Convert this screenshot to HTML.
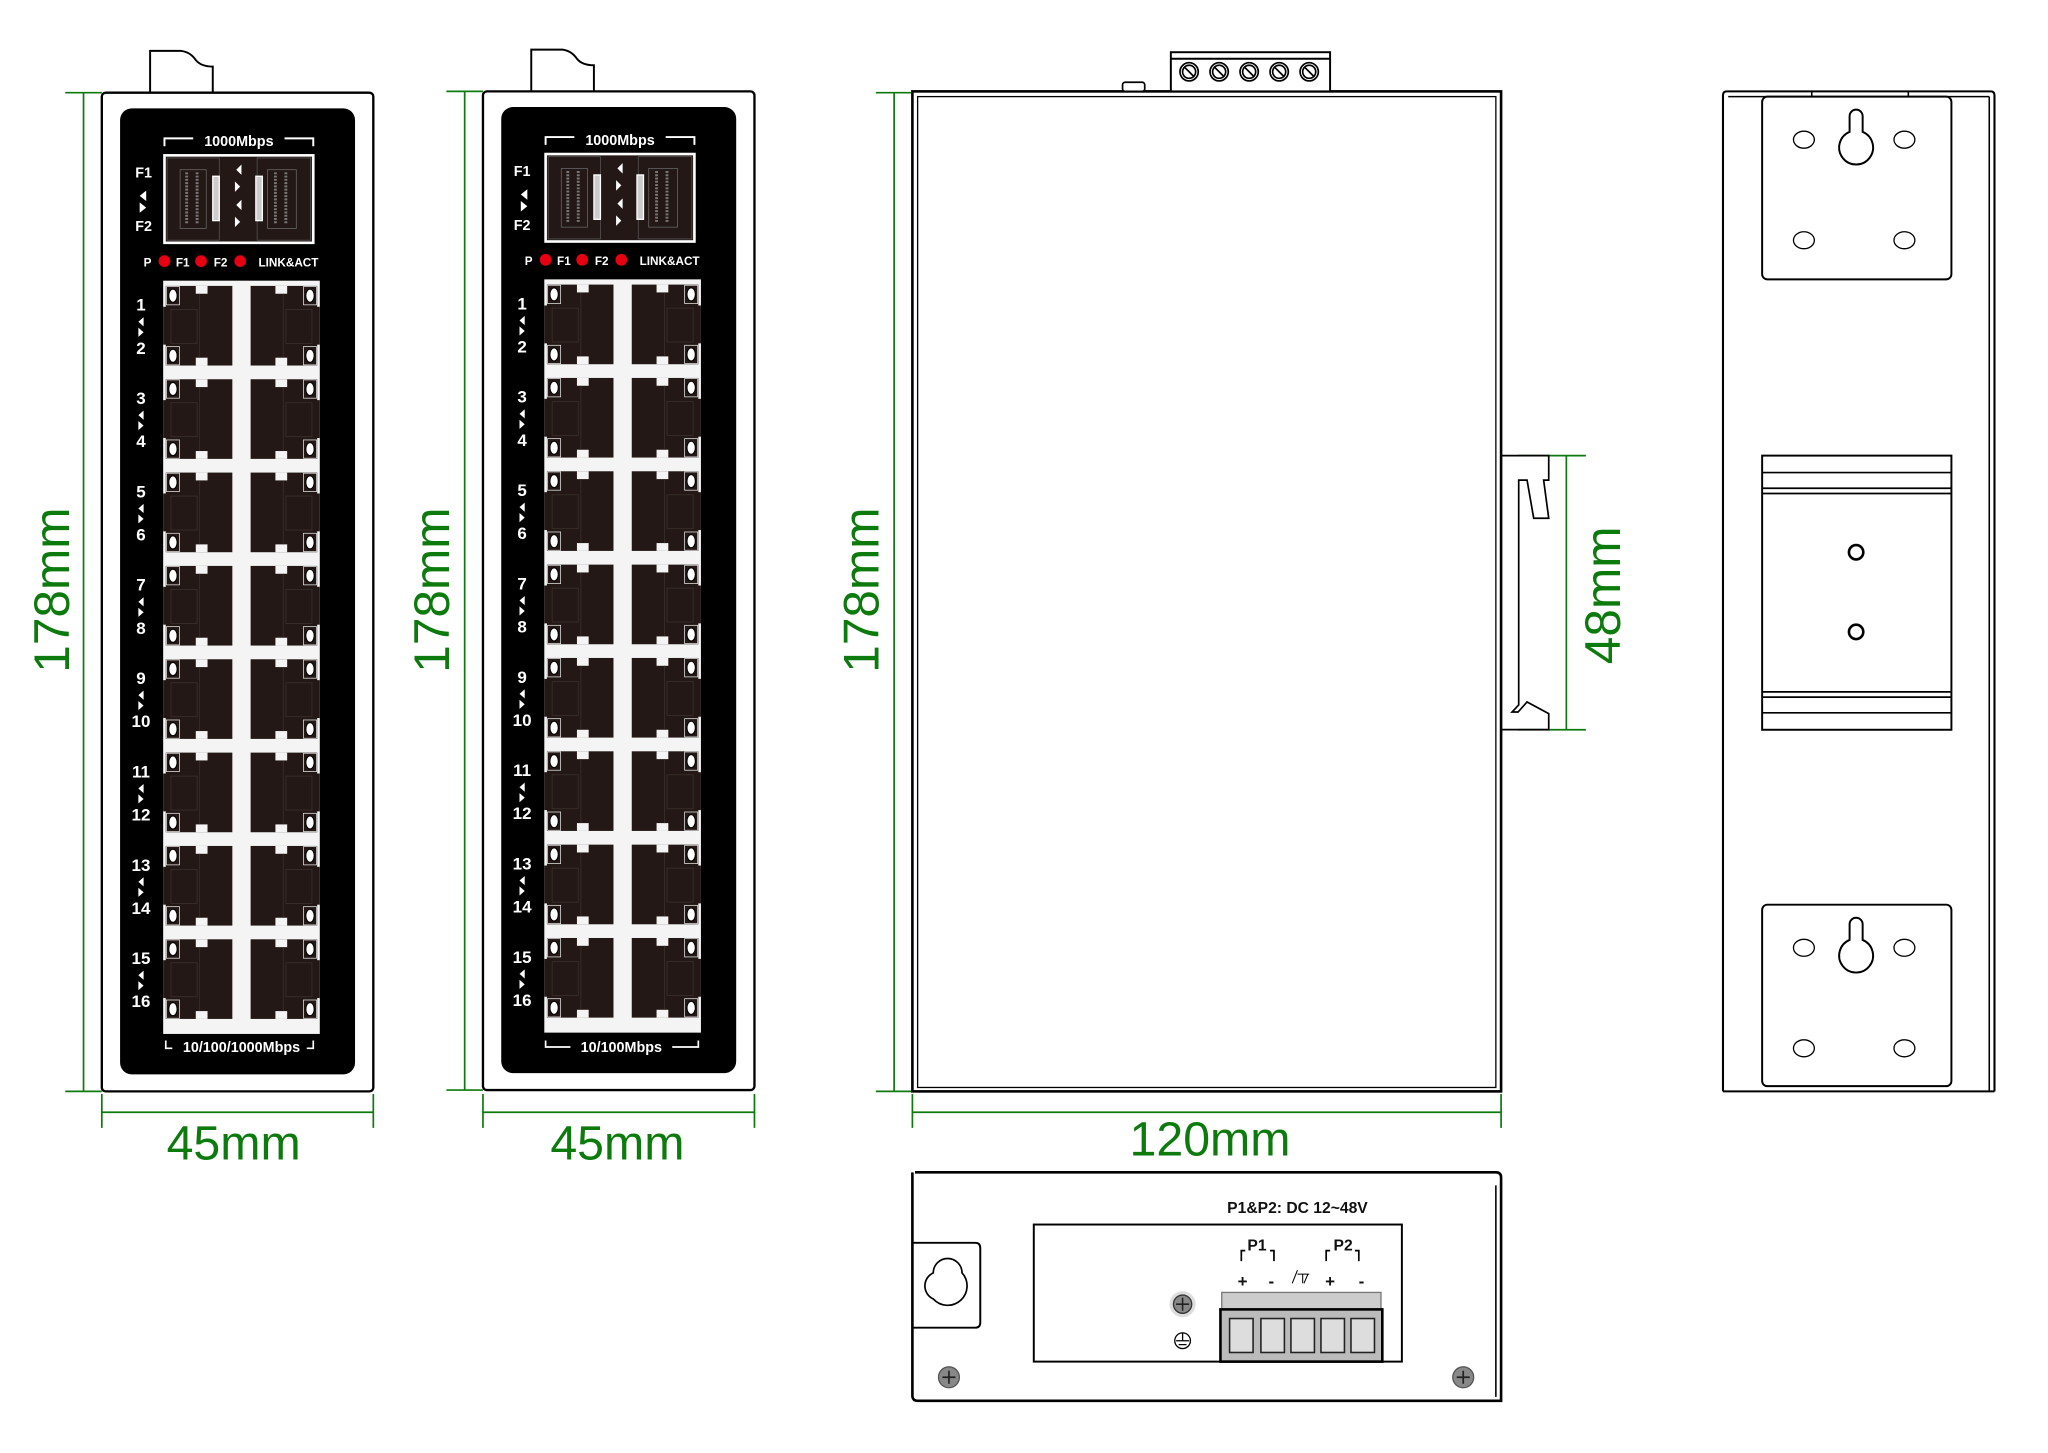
<!DOCTYPE html>
<html><head><meta charset="utf-8"><style>
html,body{margin:0;padding:0;background:#fff;}
svg{display:block;}
.w{fill:#fff;font-family:"Liberation Sans Narrow","Liberation Sans",sans-serif;font-weight:bold;}
.g{fill:#0d7a0d;font-family:"Liberation Sans",sans-serif;}
.k{fill:#111;font-family:"Liberation Sans",sans-serif;font-weight:bold;}
</style></head><body>
<svg width="2048" height="1453" viewBox="0 0 1569 1113" preserveAspectRatio="none" xmlns="http://www.w3.org/2000/svg">
<defs>
<g id="pL">
<rect x="0" y="0" width="51" height="61" fill="#231815"/>
<rect x="-2" y="16" width="3" height="29" fill="#231815"/>
<rect x="23" y="0" width="9" height="6" fill="#f4f4f4"/>
<rect x="23" y="55" width="9" height="6" fill="#f4f4f4"/>
<line x1="26" y1="6" x2="26" y2="55" stroke="#3a302c" stroke-width="0.6"/>
<rect x="4" y="18" width="20" height="26" fill="none" stroke="#3a302c" stroke-width="0.6"/>
<rect x="0.5" y="0.5" width="10" height="14" fill="#231815" stroke="#ddd" stroke-width="0.6"/>
<ellipse cx="5.5" cy="7.5" rx="3.2" ry="5" fill="#fff" stroke="#000" stroke-width="0.8"/>
<rect x="0.5" y="46.5" width="10" height="14" fill="#231815" stroke="#ddd" stroke-width="0.6"/>
<ellipse cx="5.5" cy="53.5" rx="3.2" ry="5" fill="#fff" stroke="#000" stroke-width="0.8"/>
</g>
<g id="pR"><use href="#pL" transform="translate(51,0) scale(-1,1)"/></g>
<g id="row"><use href="#pL" x="127" y="0"/><use href="#pR" x="192" y="0"/></g>
<g id="sfp">
<rect x="126" y="119" width="114" height="67" fill="#231815" stroke="#fff" stroke-width="2"/>
<rect x="128" y="121" width="40" height="63" fill="#231815" stroke="#555" stroke-width="0.6"/>
<rect x="197" y="121" width="41" height="63" fill="#231815" stroke="#555" stroke-width="0.6"/>
<rect x="138" y="130" width="20" height="45" fill="none" stroke="#666" stroke-width="0.6"/>
<rect x="205" y="130" width="22" height="45" fill="none" stroke="#666" stroke-width="0.6"/>
<path d="M143,132V172M151,132V172M211,132V172M219,132V172" stroke="#777" stroke-width="2.2" stroke-dasharray="1.5 1"/>
<rect x="163" y="135" width="5" height="34" fill="#ccc" stroke="#fff" stroke-width="1"/>
<rect x="196" y="135" width="5" height="34" fill="#ccc" stroke="#fff" stroke-width="1"/>
<polygon points="185,126 181,130 185,134" fill="#fff"/>
<polygon points="180,139 184,143 180,147" fill="#fff"/>
<polygon points="185,153 181,157 185,161" fill="#fff"/>
<polygon points="180,166 184,170 180,174" fill="#fff"/>
<polygon points="112,146 107,150 112,154" fill="#fff"/>
<polygon points="107,155 112,159 107,163" fill="#fff"/>
</g>
<g id="dev">
<path d="M115,71V39H139Q146,40 150,46Q154,51 163,51V71" fill="#fff" stroke="#000" stroke-width="1.5"/>
<rect x="78" y="71" width="208" height="765" rx="3" fill="#fff" stroke="#000" stroke-width="1.8"/>
<rect x="92" y="83" width="180" height="740" rx="9" fill="#000"/>
<path d="M126,112V106H148M218,106H240V112" stroke="#fff" stroke-width="1.5" fill="none"/>
<use href="#sfp"/>
<circle cx="126" cy="200" r="4.5" fill="#e60012"/>
<circle cx="154" cy="200" r="4.5" fill="#e60012"/>
<circle cx="184" cy="200" r="4.5" fill="#e60012"/>
<rect x="125" y="215" width="120" height="577" fill="#f4f4f4"/>
<use href="#row" y="219"/><use href="#row" y="290.5"/><use href="#row" y="362"/><use href="#row" y="433.5"/>
<use href="#row" y="505"/><use href="#row" y="576.5"/><use href="#row" y="648"/><use href="#row" y="719.5"/>
<g fill="#fff">
<polygon points="110,243 106,246.5 110,250"/><polygon points="106,251 110,254.5 106,258"/>
<polygon points="110,314.5 106,318 110,321.5"/><polygon points="106,322.5 110,326 106,329.5"/>
<polygon points="110,386 106,389.5 110,393"/><polygon points="106,394 110,397.5 106,401"/>
<polygon points="110,457.5 106,461 110,464.5"/><polygon points="106,465.5 110,469 106,472.5"/>
<polygon points="110,529 106,532.5 110,536"/><polygon points="106,537 110,540.5 106,544"/>
<polygon points="110,600.5 106,604 110,607.5"/><polygon points="106,608.5 110,612 106,615.5"/>
<polygon points="110,672 106,675.5 110,679"/><polygon points="106,680 110,683.5 106,687"/>
<polygon points="110,743.5 106,747 110,750.5"/><polygon points="106,751.5 110,755 106,758.5"/>
</g>
</g>
</defs>

<use href="#dev"/>
<g class="w" font-size="13" text-anchor="middle">
<text x="183" y="112" font-size="11">1000Mbps</text>
<text x="110" y="136" font-size="11">F1</text><text x="110" y="177" font-size="11">F2</text>
<text x="113" y="204" font-size="9">P</text><text x="140" y="204" font-size="9">F1</text><text x="169" y="204" font-size="9">F2</text><text x="221" y="204" font-size="9">LINK&amp;ACT</text>
<text x="108" y="238">1</text><text x="108" y="271">2</text>
<text x="108" y="309.5">3</text><text x="108" y="342.5">4</text>
<text x="108" y="381">5</text><text x="108" y="414">6</text>
<text x="108" y="452.5">7</text><text x="108" y="485.5">8</text>
<text x="108" y="524">9</text><text x="108" y="557">10</text>
<text x="108" y="595.5">11</text><text x="108" y="628.5">12</text>
<text x="108" y="667">13</text><text x="108" y="700">14</text>
<text x="108" y="738.5">15</text><text x="108" y="771.5">16</text>
<text x="185" y="806" font-size="11">10/100/1000Mbps</text>
</g>
<path d="M127,797V803H132M240,797V803H235" stroke="#fff" stroke-width="1.3" fill="none"/>

<g transform="translate(292,-1)"><use href="#dev"/></g>
<g class="w" font-size="13" text-anchor="middle">
<text x="475" y="111" font-size="11">1000Mbps</text>
<text x="400" y="135" font-size="11">F1</text><text x="400" y="176" font-size="11">F2</text>
<text x="405" y="203" font-size="9">P</text><text x="432" y="203" font-size="9">F1</text><text x="461" y="203" font-size="9">F2</text><text x="513" y="203" font-size="9">LINK&amp;ACT</text>
<text x="400" y="237">1</text><text x="400" y="270">2</text>
<text x="400" y="308.5">3</text><text x="400" y="341.5">4</text>
<text x="400" y="380">5</text><text x="400" y="413">6</text>
<text x="400" y="451.5">7</text><text x="400" y="484.5">8</text>
<text x="400" y="523">9</text><text x="400" y="556">10</text>
<text x="400" y="594.5">11</text><text x="400" y="627.5">12</text>
<text x="400" y="666">13</text><text x="400" y="699">14</text>
<text x="400" y="737.5">15</text><text x="400" y="770.5">16</text>
<text x="476" y="806" font-size="11">10/100Mbps</text>
</g>
<path d="M418,797V802H437M515,802H535V797" stroke="#fff" stroke-width="1.3" fill="none"/>

<g stroke="#0d7a0d" stroke-width="1.3" fill="none">
<path d="M50,71H78M50,836H78M64,71V836M78,838V864M286,838V864M78,852H286"/>
<path d="M342,70H370M342,835H370M356,70V835M370,838V864M578,838V864M370,852H578"/>
<path d="M671,71H699M671,836H699M685,71V836M699,838V864M1150,838V864M699,852H1150"/>
<path d="M1163,349H1215M1163,559H1215M1200,349V559"/>
</g>
<g class="g" text-anchor="middle">
<text transform="translate(53,452) rotate(-90)" font-size="38">178mm</text>
<text transform="translate(344,452) rotate(-90)" font-size="38">178mm</text>
<text transform="translate(673,452) rotate(-90)" font-size="38">178mm</text>
<text transform="translate(1241,456) rotate(-90)" font-size="38">48mm</text>
<text x="179" y="888" font-size="37">45mm</text>
<text x="473" y="888" font-size="37">45mm</text>
<text x="927" y="885" font-size="37">120mm</text>
</g>

<g fill="none" stroke="#000">
<rect x="699" y="70" width="451" height="766" stroke-width="2"/>
<rect x="703" y="74" width="443" height="759" stroke-width="1"/>
<rect x="897" y="40" width="122" height="30" fill="#fff" stroke-width="1.5"/>
<line x1="897" y1="45" x2="1019" y2="45" stroke-width="1.5"/>
<rect x="860" y="63" width="17" height="7" rx="2" fill="#fff" stroke-width="1.3"/>
<g stroke-width="1.3">
<circle cx="911" cy="55" r="7"/><circle cx="911" cy="55" r="5"/><line x1="907" y1="51" x2="915" y2="59"/>
<circle cx="934" cy="55" r="7"/><circle cx="934" cy="55" r="5"/><line x1="930" y1="51" x2="938" y2="59"/>
<circle cx="957" cy="55" r="7"/><circle cx="957" cy="55" r="5"/><line x1="953" y1="51" x2="961" y2="59"/>
<circle cx="980" cy="55" r="7"/><circle cx="980" cy="55" r="5"/><line x1="976" y1="51" x2="984" y2="59"/>
<circle cx="1003" cy="55" r="7"/><circle cx="1003" cy="55" r="5"/><line x1="999" y1="51" x2="1007" y2="59"/>
</g>
<path d="M1150,349H1186.5V367.8H1182.6L1186.5,397H1175L1169.9,367.8H1163.5V540L1158.4,545.4H1163L1169.9,537.7L1186.5,546.6V558.9H1150" stroke-width="1.3"/>
</g>

<g fill="none" stroke="#000">
<path d="M701,898H1146Q1150,898 1150,902V1073H703Q699,1073 699,1069V898" stroke-width="2"/>
<path d="M1146,908V1070" stroke-width="1.2"/>
<path d="M699,952H747Q751,952 751,956V1013Q751,1017 747,1017H699" stroke-width="1.5"/>
<path d="M715,975A11,11 0 1 1 737,975A11,11 0 1 1 715,995A11,11 0 0 1 715,975Z" stroke-width="1.3"/>
<rect x="792" y="938" width="282" height="105" stroke-width="1.5"/>
<path d="M951,966V958H954M976,966V958H973M1016,966V958H1019M1041,966V958H1038" stroke-width="1.3"/>
<path d="M990,983L994,973M994,976H1003M998,976V983M1002,976L999,983" stroke-width="0.8"/>
</g>
<circle cx="727" cy="1055" r="8" fill="#888" stroke="#555"/><path d="M722,1055H732M727,1050V1060" stroke="#222" stroke-width="1.3"/>
<circle cx="1121" cy="1055" r="8" fill="#888" stroke="#555"/><path d="M1116,1055H1126M1121,1050V1060" stroke="#222" stroke-width="1.3"/>
<circle cx="906" cy="999" r="10" fill="#ddd"/><circle cx="906" cy="999" r="7" fill="#888" stroke="#333"/><path d="M901,999H911M906,994V1004" stroke="#222" stroke-width="1.2"/>
<circle cx="906" cy="1027" r="6" fill="none" stroke="#000" stroke-width="1"/><path d="M901,1027H911M903,1030H909M906,1021V1027" stroke="#000" stroke-width="1"/>
<rect x="936" y="990" width="122" height="13" fill="#ccc" stroke="#777"/>
<rect x="935" y="1003" width="124" height="40" fill="#bbb" stroke="#000" stroke-width="2"/>
<g fill="#ddd" stroke="#222" stroke-width="1.2">
<rect x="942" y="1010" width="18" height="26"/><rect x="966" y="1010" width="18" height="26"/><rect x="989" y="1010" width="18" height="26"/><rect x="1012" y="1010" width="18" height="26"/><rect x="1035" y="1010" width="18" height="26"/>
</g>
<g class="k" text-anchor="middle">
<text x="994" y="929" font-size="12">P1&amp;P2: DC 12~48V</text>
<text x="963" y="958" font-size="12">P1</text>
<text x="1029" y="958" font-size="12">P2</text>
<text x="952" y="986" font-size="13">+</text><text x="974" y="986" font-size="13">-</text>
<text x="1019" y="986" font-size="13">+</text><text x="1043" y="986" font-size="13">-</text>
</g>

<g fill="none" stroke="#000">
<path d="M1320,836V73Q1320,70 1323,70H1525Q1528,70 1528,73V836" stroke-width="1.6"/>
<path d="M1524,74V836M1324,74H1524M1388,70V74M1462,70V74" stroke-width="1.2"/>
<path d="M1320,836H1528" stroke-width="1.6"/>
<rect x="1350" y="74" width="145" height="140" rx="4" stroke-width="1.5"/>
<ellipse cx="1382" cy="107" rx="8" ry="6.5"/><ellipse cx="1459" cy="107" rx="8" ry="6.5"/>
<ellipse cx="1382" cy="184" rx="8" ry="6.5"/><ellipse cx="1459" cy="184" rx="8" ry="6.5"/>
<path d="M1417,101V89A5,5 0 0 1 1427,89V101A13,13 0 1 1 1417,101Z" stroke-width="1.5"/>
<rect x="1350" y="349" width="145" height="210" stroke-width="1.5"/>
<path d="M1350,362H1495M1350,374H1495M1350,378H1495M1350,530H1495M1350,534H1495M1350,546H1495" stroke-width="1.3"/>
<circle cx="1422" cy="423" r="5.5" stroke-width="2"/><circle cx="1422" cy="484" r="5.5" stroke-width="2"/>
<rect x="1350" y="693" width="145" height="139" rx="4" stroke-width="1.5"/>
<ellipse cx="1382" cy="726" rx="8" ry="6.5"/><ellipse cx="1459" cy="726" rx="8" ry="6.5"/>
<ellipse cx="1382" cy="803" rx="8" ry="6.5"/><ellipse cx="1459" cy="803" rx="8" ry="6.5"/>
<path d="M1417,720V708A5,5 0 0 1 1427,708V720A13,13 0 1 1 1417,720Z" stroke-width="1.5"/>
</g>
</svg>
</body></html>
